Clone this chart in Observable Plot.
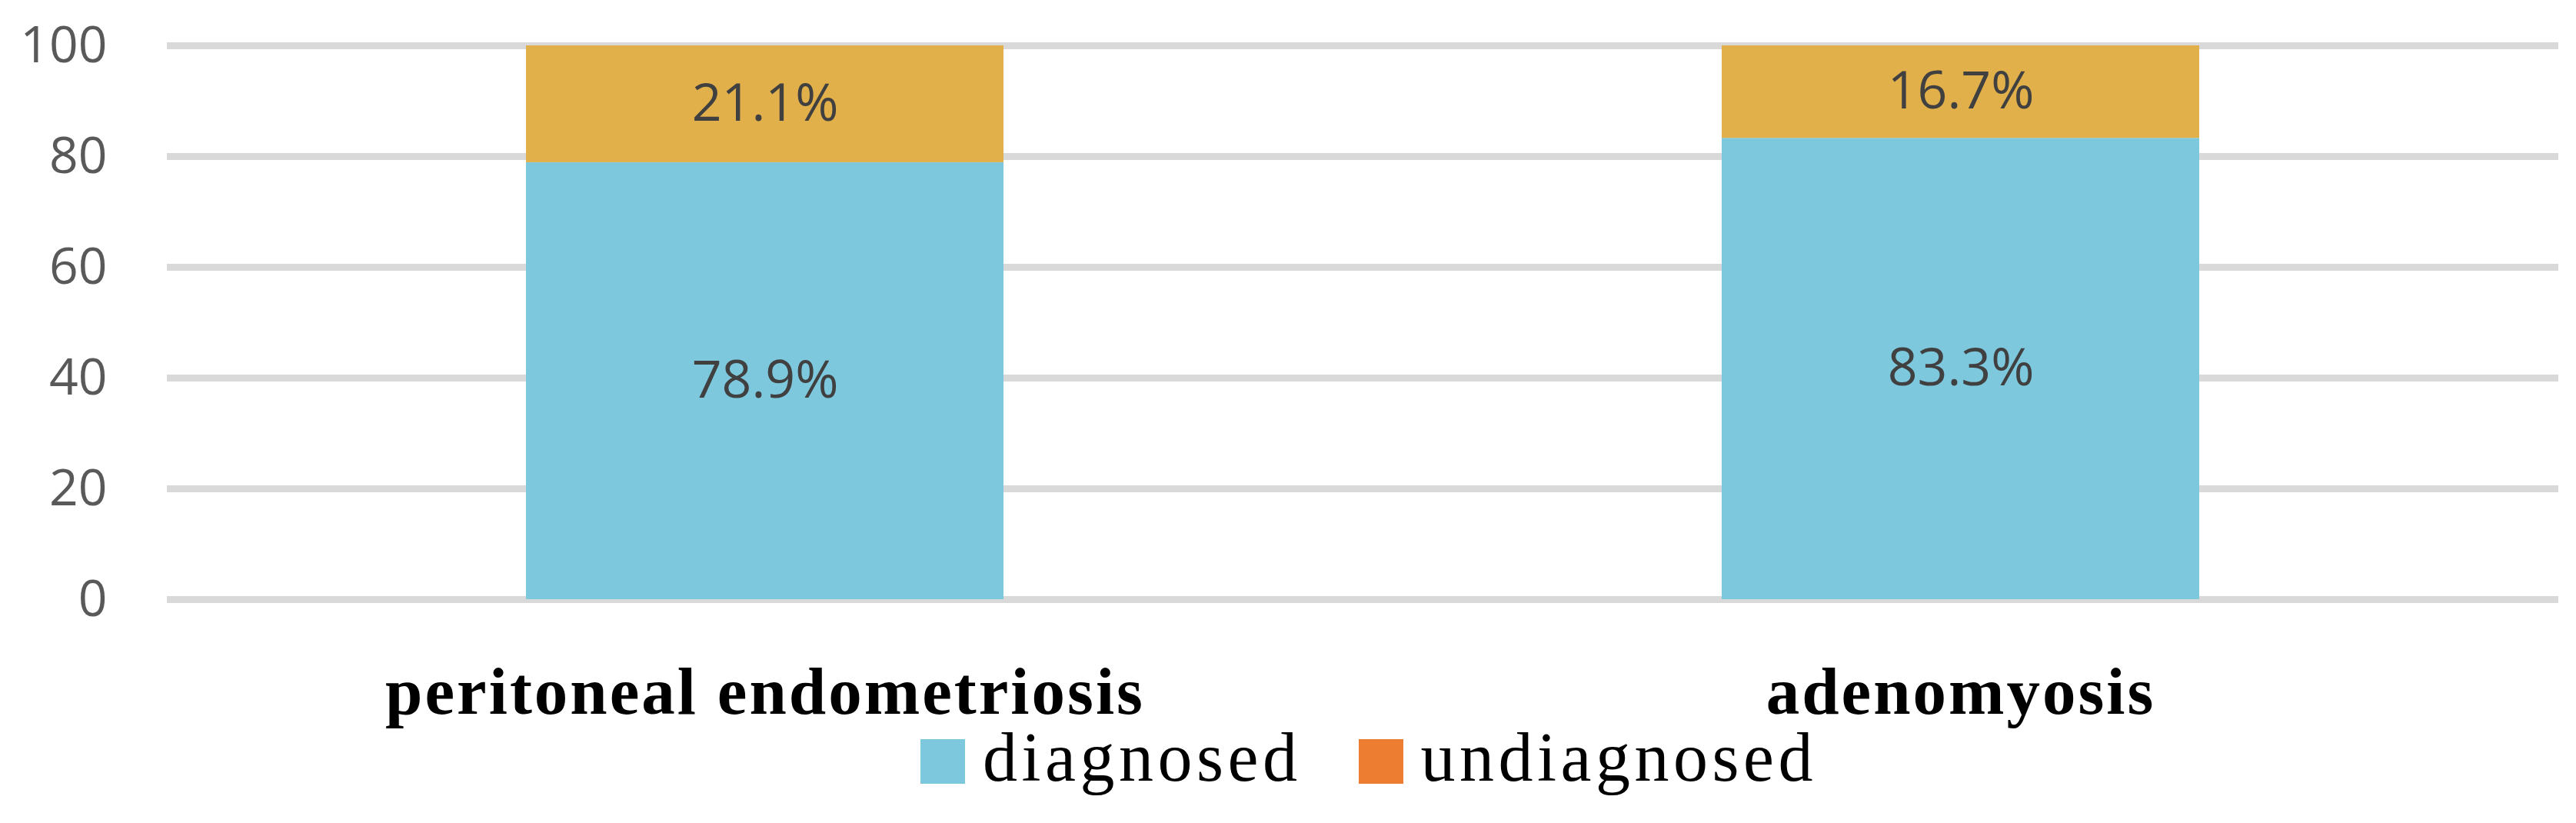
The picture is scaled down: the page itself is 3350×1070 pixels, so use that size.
<!DOCTYPE html>
<html><head><meta charset="utf-8">
<script src="https://cdn.jsdelivr.net/npm/d3@7"></script>
<script src="https://cdn.jsdelivr.net/npm/@observablehq/plot@0.6"></script>
<style>
body{margin:0;background:#fff;width:3350px;height:1070px;overflow:hidden;position:relative}
#chart svg [aria-label="x-axis tick label"] text{letter-spacing:3px}
.legend{position:absolute;top:940px;left:225px;width:3110px;display:flex;justify-content:center;align-items:baseline;
  font-family:"Liberation Serif",serif;font-size:90px;line-height:90px;letter-spacing:5.5px;color:#000}
.legend .sw{width:58px;height:58px;display:inline-block;position:relative;top:4px;margin-right:23px}
.legend .item{display:flex;align-items:baseline;margin:0 37px}
</style></head><body><div id="chart"></div><div class="legend" id="legend"></div>
<script>
const categories = ["peritoneal endometriosis", "adenomyosis"];
const seriesNames = ["diagnosed", "undiagnosed"];
const diagnosed = [78.9, 83.3];
const undiagnosed = [21.1, 16.7];
const yTicks = [0, 20, 40, 60, 80, 100];
const barColors = ["#7EC8DE", "#E1B04A"];
const legendColors = ["#7EC8DE", "#ED7D31"];

const seriesValues = [diagnosed, undiagnosed];
const rows = [];
seriesNames.forEach((s, si) => categories.forEach((c, ci) => {
  const v = seriesValues[si][ci];
  rows.push({category: c, status: s, value: v, label: v.toFixed(1) + "%"});
}));

const plot = Plot.plot({
  width: 3350,
  height: 1070,
  marginTop: 59,
  marginBottom: 291,
  marginLeft: 217,
  marginRight: 23,
  style: {background: "#fff"},
  x: {domain: categories, paddingInner: 0.6006, paddingOuter: 0.3003, label: null},
  y: {domain: [0, 100], ticks: yTicks, label: null},
  color: {domain: seriesNames, range: barColors},
  marks: [
    Plot.ruleY(yTicks, {stroke: "#d9d9d9", strokeWidth: 9}),
    Plot.barY(rows, Plot.stackY({x: "category", y: "value", fill: "status"})),
    Plot.text(rows, Plot.stackY({x: "category", y: "value", z: "status", text: "label",
      fill: "#404040", fontSize: 68, fontFamily: "Open Sans"})),
    Plot.axisY({ticks: yTicks, tickSize: 0, tickPadding: 78, fontSize: 66, fontFamily: "Open Sans", color: "#595959", label: null}),
    Plot.axisX({tickSize: 0, tickPadding: 87, fontSize: 87, fontFamily: "Liberation Serif", fontWeight: "bold", color: "#000", label: null})
  ]
});
document.getElementById("chart").appendChild(plot);

const legend = document.getElementById("legend");
seriesNames.forEach((s, i) => {
  const item = document.createElement("div");
  item.className = "item";
  const sw = document.createElement("span");
  sw.className = "sw";
  sw.style.background = legendColors[i];
  const t = document.createElement("span");
  t.textContent = s;
  item.appendChild(sw); item.appendChild(t);
  legend.appendChild(item);
});
</script>
</body></html>
